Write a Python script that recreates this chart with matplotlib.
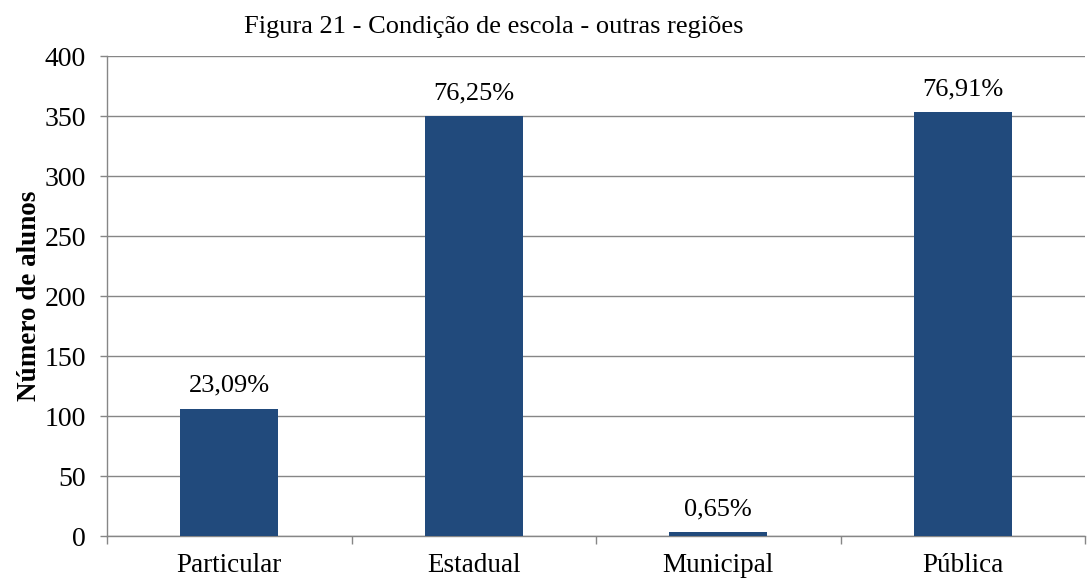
import matplotlib
matplotlib.use('Agg')
import matplotlib.pyplot as plt
import numpy as np

categorias = ['Particular', 'Estadual', 'Municipal', 'Pública']
alunos = [106, 350, 3, 353]
rotulos = ['23,09%', '76,25%', '0,65%', '76,91%']

plt.rcParams['font.family'] = ['Liberation Serif', 'DejaVu Serif']

fig = plt.figure(figsize=(10.87, 5.8), dpi=100)
ax = fig.add_axes([107/1087, 1 - 536/580, (1085 - 107)/1087, (536 - 56)/580])

x = np.arange(len(categorias))
ax.bar(x, alunos, width=0.4, color='#214A7C', zorder=3)
for xi, v, r in zip(x, alunos, rotulos):
    ax.text(xi, v + 10, r, ha='center', va='bottom', fontsize=19)

ax.set_xlim(-0.5, len(categorias) - 0.5)
ax.set_ylim(0, 400)
ax.set_yticks(np.arange(0, 401, 50))
ax.tick_params(axis='y', labelsize=20, length=5, width=1.0, color='#868686', pad=10)
ax.yaxis.grid(True, color='#868686', linewidth=1.0, zorder=0)

ax.set_xticks(np.arange(-0.5, len(categorias), 1))
ax.set_xticklabels([])
ax.set_xticks(x, minor=True)
ax.set_xticklabels(categorias, minor=True, fontsize=19.5)
ax.tick_params(axis='x', which='major', length=6, width=1.0, color='#868686')
ax.tick_params(axis='x', which='minor', length=0, pad=12)

for s in ['top', 'right']:
    ax.spines[s].set_visible(False)
for s in ['left', 'bottom']:
    ax.spines[s].set_color('#868686')
    ax.spines[s].set_linewidth(1.0)

ax.set_ylabel('Número de alunos', fontsize=19.5, fontweight='bold', labelpad=2)
fig.text(494/1087, 1 - 27/580, 'Figura 21 - Condição de escola - outras regiões',
         ha='center', va='center', fontsize=19)

fig.savefig('out.png', dpi=100)
